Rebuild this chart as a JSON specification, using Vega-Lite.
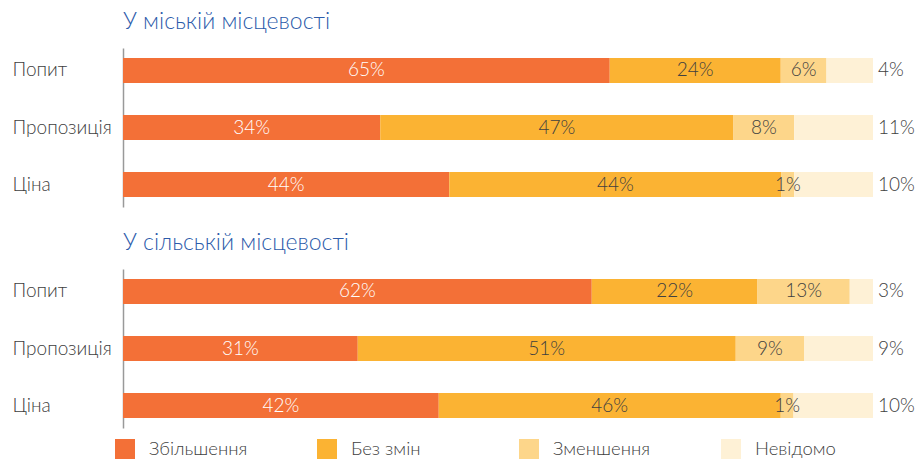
{
  "$schema": "https://vega.github.io/schema/vega-lite/v6.json",
  "autosize": {"type": "pad"},
  "padding": {"left": 12, "top": 11, "right": 2, "bottom": 0},
  "background": "white",
  "datasets": {
    "rows": [
      {"area": "urban", "item": "Попит", "cat": "Збільшення", "order": 1, "value": 64.9, "label": "65%"},
      {"area": "urban", "item": "Попит", "cat": "Без змін", "order": 2, "value": 22.8, "label": "24%"},
      {"area": "urban", "item": "Попит", "cat": "Зменшення", "order": 3, "value": 6.1, "label": "6%"},
      {"area": "urban", "item": "Попит", "cat": "Невідомо", "order": 4, "value": 6.2, "label": "4%"},
      {"area": "urban", "item": "Пропозиція", "cat": "Збільшення", "order": 1, "value": 34.3, "label": "34%"},
      {"area": "urban", "item": "Пропозиція", "cat": "Без змін", "order": 2, "value": 47.1, "label": "47%"},
      {"area": "urban", "item": "Пропозиція", "cat": "Зменшення", "order": 3, "value": 8.1, "label": "8%"},
      {"area": "urban", "item": "Пропозиція", "cat": "Невідомо", "order": 4, "value": 10.5, "label": "11%"},
      {"area": "urban", "item": "Ціна", "cat": "Збільшення", "order": 1, "value": 43.5, "label": "44%"},
      {"area": "urban", "item": "Ціна", "cat": "Без змін", "order": 2, "value": 44.3, "label": "44%"},
      {"area": "urban", "item": "Ціна", "cat": "Зменшення", "order": 3, "value": 1.7, "label": "1%"},
      {"area": "urban", "item": "Ціна", "cat": "Невідомо", "order": 4, "value": 10.5, "label": "10%"},
      {"area": "rural", "item": "Попит", "cat": "Збільшення", "order": 1, "value": 62.5, "label": "62%"},
      {"area": "rural", "item": "Попит", "cat": "Без змін", "order": 2, "value": 22.1, "label": "22%"},
      {"area": "rural", "item": "Попит", "cat": "Зменшення", "order": 3, "value": 12.3, "label": "13%"},
      {"area": "rural", "item": "Попит", "cat": "Невідомо", "order": 4, "value": 3.1, "label": "3%"},
      {"area": "rural", "item": "Пропозиція", "cat": "Збільшення", "order": 1, "value": 31.3, "label": "31%"},
      {"area": "rural", "item": "Пропозиція", "cat": "Без змін", "order": 2, "value": 50.4, "label": "51%"},
      {"area": "rural", "item": "Пропозиція", "cat": "Зменшення", "order": 3, "value": 9.1, "label": "9%"},
      {"area": "rural", "item": "Пропозиція", "cat": "Невідомо", "order": 4, "value": 9.2, "label": "9%"},
      {"area": "rural", "item": "Ціна", "cat": "Збільшення", "order": 1, "value": 42.1, "label": "42%"},
      {"area": "rural", "item": "Ціна", "cat": "Без змін", "order": 2, "value": 45.6, "label": "46%"},
      {"area": "rural", "item": "Ціна", "cat": "Зменшення", "order": 3, "value": 1.7, "label": "1%"},
      {"area": "rural", "item": "Ціна", "cat": "Невідомо", "order": 4, "value": 10.6, "label": "10%"}
    ]
  },
  "data": {"name": "rows"},
  "spacing": 25,
  "resolve": {"scale": {"color": "independent"}, "legend": {"color": "independent"}},
  "vconcat": [
    {
      "title": {"text": "У міській місцевості"},
      "width": 750,
      "height": 159,
      "transform": [
        {"filter": "datum.area === 'urban'"},
        {"stack": "value", "groupby": ["item"], "sort": [{"field": "order", "order": "ascending"}], "as": ["x0", "x1"]},
        {"calculate": "(datum.x0 + datum.x1) / 2", "as": "xm"}
      ],
      "encoding": {
        "y": {"field": "item", "type": "nominal", "sort": ["Попит", "Пропозиція", "Ціна"],
              "scale": {"paddingInner": 0.561, "paddingOuter": 0.175}, "axis": {"title": null}}
      },
      "layer": [
        {
          "mark": {"type": "bar"},
          "encoding": {
            "x": {"field": "x0", "type": "quantitative", "scale": {"domain": [0, 100]}, "axis": null},
            "x2": {"field": "x1"},
            "color": {"field": "cat", "type": "nominal",
                      "scale": {"domain": ["Збільшення", "Без змін", "Зменшення", "Невідомо"], "range": ["#F37037", "#FBB333", "#FDD68A", "#FEF1D6"]},
                      "legend": null}
          }
        },
        {
          "transform": [{"filter": "datum.cat !== 'Невідомо'"}],
          "mark": {"type": "text", "align": "center", "baseline": "middle", "fontSize": 19, "font": "Lato", "fontWeight": 300},
          "encoding": {
            "x": {"field": "xm", "type": "quantitative"},
            "text": {"field": "label"},
            "color": {"condition": {"test": "datum.cat === 'Збільшення'", "value": "#FFFFFF"}, "value": "#404040"}
          }
        },
        {
          "transform": [{"filter": "datum.cat === 'Невідомо'"}],
          "mark": {"type": "text", "align": "left", "baseline": "middle", "dx": 5, "fontSize": 19, "font": "Lato", "fontWeight": 300, "color": "#404040"},
          "encoding": {
            "x": {"field": "x1", "type": "quantitative"},
            "text": {"field": "label"}
          }
        }
      ]
    },
    {
      "title": {"text": "У сільській місцевості"},
      "width": 750,
      "height": 159,
      "transform": [
        {"filter": "datum.area === 'rural'"},
        {"stack": "value", "groupby": ["item"], "sort": [{"field": "order", "order": "ascending"}], "as": ["x0", "x1"]},
        {"calculate": "(datum.x0 + datum.x1) / 2", "as": "xm"}
      ],
      "encoding": {
        "y": {"field": "item", "type": "nominal", "sort": ["Попит", "Пропозиція", "Ціна"],
              "scale": {"paddingInner": 0.561, "paddingOuter": 0.175}, "axis": {"title": null}}
      },
      "layer": [
        {
          "mark": {"type": "bar"},
          "encoding": {
            "x": {"field": "x0", "type": "quantitative", "scale": {"domain": [0, 100]}, "axis": null},
            "x2": {"field": "x1"},
            "color": {"field": "cat", "type": "nominal",
                      "scale": {"domain": ["Збільшення", "Без змін", "Зменшення", "Невідомо"], "range": ["#F37037", "#FBB333", "#FDD68A", "#FEF1D6"]},
                      "legend": {"orient": "none", "legendX": -8, "legendY": 170, "direction": "horizontal", "columns": 4, "gridAlign": "all",
                                 "symbolType": "square", "symbolSize": 400, "symbolStrokeWidth": 0, "labelFontSize": 18.5, "labelOffset": 14,
                                 "columnPadding": 69, "title": null, "labelColor": "#404040", "labelFont": "Lato", "labelFontWeight": 300}}
          }
        },
        {
          "transform": [{"filter": "datum.cat !== 'Невідомо'"}],
          "mark": {"type": "text", "align": "center", "baseline": "middle", "fontSize": 19, "font": "Lato", "fontWeight": 300},
          "encoding": {
            "x": {"field": "xm", "type": "quantitative"},
            "text": {"field": "label"},
            "color": {"condition": {"test": "datum.cat === 'Збільшення'", "value": "#FFFFFF"}, "value": "#404040"}
          }
        },
        {
          "transform": [{"filter": "datum.cat === 'Невідомо'"}],
          "mark": {"type": "text", "align": "left", "baseline": "middle", "dx": 5, "fontSize": 19, "font": "Lato", "fontWeight": 300, "color": "#404040"},
          "encoding": {
            "x": {"field": "x1", "type": "quantitative"},
            "text": {"field": "label"}
          }
        }
      ]
    }
  ],
  "config": {
    "view": {"stroke": null},
    "title": {"anchor": "start", "frame": "group", "fontSize": 23, "font": "Lato", "fontWeight": 300, "color": "#2C5BAA", "offset": 14},
    "axisY": {"domain": true, "domainColor": "#999999", "domainWidth": 1.5, "ticks": false, "labelAlign": "left", "labelPadding": 111,
              "labelFontSize": 19, "labelFont": "Lato", "labelFontWeight": 300, "labelColor": "#404040", "labelLimit": 120}
  }
}
